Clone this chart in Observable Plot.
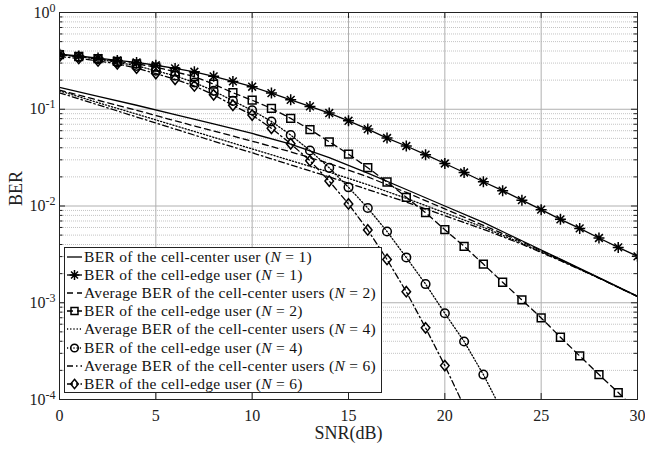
<!DOCTYPE html>
<html><head><meta charset="utf-8">
<script src="https://cdn.jsdelivr.net/npm/d3@7"></script>
<script src="https://cdn.jsdelivr.net/npm/@observablehq/plot@0.6"></script>
<style>
body{margin:0;background:#fff;}
#wrap{position:relative;width:645px;height:451px;font-family:"Liberation Serif",serif;}
#legend{position:absolute;left:64px;top:247px;width:318px;height:146px;border:1px solid #222;background:#fff;box-sizing:border-box;padding-top:0px;}
.row{height:18.1px;display:flex;align-items:center;font-size:15.5px;letter-spacing:0.3px;color:#111;white-space:nowrap;}
.row svg{flex:none;margin-right:1px;}
</style></head><body><div id="wrap"></div>
<script>
// ---- data ----
const snrEdge = [0,1,2,3,4,5,6,7,8,9,10,11,12,13,14,15,16,17,18,19,20,21,22,23,24,25,26,27,28,29,30];
const berEdgeN1 = [0.372,0.355,0.338,0.320,0.305,0.285,0.264,0.244,0.219,0.194,0.171,0.147,0.125,0.107,0.0914,0.0760,0.0624,0.0504,0.0417,0.0339,0.0275,0.0222,0.0178,0.0144,0.0115,0.00916,0.00728,0.00587,0.00467,0.00373,0.00302];
const berEdgeN2 = [0.367,0.351,0.333,0.313,0.295,0.272,0.244,0.217,0.182,0.148,0.124,0.102,0.0804,0.0617,0.0461,0.0344,0.0249,0.0177,0.0123,0.00853,0.00569,0.00383,0.00251,0.00163,0.00107,0.000697,0.000440,0.000282,0.000181,0.000118,0.0000759];
const berEdgeN4 = [0.367,0.348,0.330,0.305,0.281,0.250,0.222,0.189,0.155,0.122,0.0973,0.0748,0.0541,0.0375,0.0248,0.0156,0.00953,0.00545,0.00294,0.00156,0.000778,0.000398,0.000181,0.0000741];
const berEdgeN6 = [0.351,0.335,0.316,0.295,0.266,0.234,0.204,0.174,0.141,0.110,0.0871,0.0635,0.0440,0.0294,0.0181,0.0105,0.00565,0.00280,0.00130,0.000550,0.000224,0.0000851];
const snrCenter = [0,2,4,6,8,10,12,14,16,18,20,22,24,26,28,30];
const berCenterN1 = [0.168,0.136,0.110,0.0881,0.0708,0.0562,0.0437,0.0316,0.0219,0.0148,0.0100,0.00676,0.00437,0.00282,0.00182,0.00117];
const berCenterN2 = [0.158,0.124,0.0977,0.0759,0.0596,0.0468,0.0363,0.0275,0.0200,0.0138,0.00933,0.00631,0.00427,0.00279,0.00180,0.00116];
const berCenterN4 = [0.155,0.117,0.0891,0.0676,0.0513,0.0389,0.0295,0.0224,0.0166,0.0120,0.00851,0.00603,0.00412,0.00275,0.00180,0.00116];
const berCenterN6 = [0.148,0.111,0.0832,0.0624,0.0468,0.0355,0.0266,0.0200,0.0148,0.0110,0.00794,0.00575,0.00403,0.00272,0.00180,0.00116];
const xTicks = [0,5,10,15,20,25,30];
const yMajor = [1e-4,1e-3,1e-2,1e-1,1];
const yMinor = [2e-4,3e-4,4e-4,5e-4,6e-4,7e-4,8e-4,9e-4,2e-3,3e-3,4e-3,5e-3,6e-3,7e-3,8e-3,9e-3,2e-2,3e-2,4e-2,5e-2,6e-2,7e-2,8e-2,9e-2,0.2,0.3,0.4,0.5,0.6,0.7,0.8,0.9];
const legendLabels = [
  "BER of the cell-center user (<i>N</i> = 1)",
  "BER of the cell-edge user (<i>N</i> = 1)",
  "Average BER of the cell-center users (<i>N</i> = 2)",
  "BER of the cell-edge user (<i>N</i> = 2)",
  "Average BER of the cell-center users (<i>N</i> = 4)",
  "BER of the cell-edge user (<i>N</i> = 4)",
  "Average BER of the cell-center users (<i>N</i> = 6)",
  "BER of the cell-edge user (<i>N</i> = 6)"
];

// ---- symbols & styles ----
const symStar = {draw(c, s){const r=Math.sqrt(s/Math.PI);const d=r*0.7071;
  c.moveTo(-r,0);c.lineTo(r,0);c.moveTo(0,-r);c.lineTo(0,r);
  c.moveTo(-d,-d);c.lineTo(d,d);c.moveTo(-d,d);c.lineTo(d,-d);}};
const symSquare = {draw(c, s){const r=Math.sqrt(s/Math.PI)*0.85;
  c.moveTo(-r,-r);c.lineTo(r,-r);c.lineTo(r,r);c.lineTo(-r,r);c.closePath();}};
const symDiamond = {draw(c, s){const r=Math.sqrt(s/Math.PI);const w=r*0.82;
  c.moveTo(0,-r);c.lineTo(w,0);c.lineTo(0,r);c.lineTo(-w,0);c.closePath();}};
const DASH = {solid:null, dashed:"6,4", dotted:"1.2,2", dashdot:"6,3,1.5,3"};

const series = [
  {x: snrCenter, y: berCenterN1, dash: DASH.solid, sym: null},
  {x: snrEdge, y: berEdgeN1, dash: DASH.solid, sym: symStar, r: 5.5},
  {x: snrCenter, y: berCenterN2, dash: DASH.dashed, sym: null},
  {x: snrEdge, y: berEdgeN2, dash: DASH.dashed, sym: symSquare, r: 4.6},
  {x: snrCenter, y: berCenterN4, dash: DASH.dotted, sym: null},
  {x: snrEdge.slice(0, berEdgeN4.length), y: berEdgeN4, dash: DASH.dotted, sym: d3.symbolCircle, r: 4.3},
  {x: snrCenter, y: berCenterN6, dash: DASH.dashdot, sym: null},
  {x: snrEdge.slice(0, berEdgeN6.length), y: berEdgeN6, dash: DASH.dashdot, sym: symDiamond, r: 5.2}
];

const marks = [
  Plot.ruleY(yMinor, {stroke:"#c4c4c4", strokeDasharray:"1,1", strokeWidth:1}),
  Plot.ruleY(yMajor, {stroke:"#b0b0b0", strokeWidth:1}),
  Plot.ruleX(xTicks, {stroke:"#b0b0b0", strokeWidth:1})
];
for (const s of series) {
  const data = s.x.map((v, i) => ({snr: v, ber: s.y[i]}));
  marks.push(Plot.line(data, {x:"snr", y:"ber", stroke:"#000", strokeWidth:1.3, strokeDasharray:s.dash, clip:true}));
  if (s.sym) marks.push(Plot.dot(data, {x:"snr", y:"ber", symbol:s.sym, r:s.r, fill:"none", stroke:"#000", strokeWidth:1.5, clip:true}));
}
// inward ticks
const FW = 645-59-8, FH = 451-12-52;
marks.push(
  Plot.tickX(xTicks, {x:d=>d, insetTop:FH-6, stroke:"#222"}),
  Plot.tickX(xTicks, {x:d=>d, insetBottom:FH-6, stroke:"#222"}),
  Plot.tickY(yMajor, {y:d=>d, insetRight:FW-6, stroke:"#222"}),
  Plot.tickY(yMajor, {y:d=>d, insetLeft:FW-6, stroke:"#222"}),
  Plot.tickY(yMinor, {y:d=>d, insetRight:FW-3.5, stroke:"#222"}),
  Plot.tickY(yMinor, {y:d=>d, insetLeft:FW-3.5, stroke:"#222"}),
  Plot.frame({stroke:"#222", strokeWidth:1}),
  Plot.axisX(xTicks, {tickSize:0, tickPadding:10, label:null, fontSize:16}),
  Plot.axisY(yMajor, {tickSize:0, tickPadding:4, label:null, fontSize:16, tickFormat:d => "10^" + Math.round(Math.log10(d))}),
  Plot.text(["BER"], {frameAnchor:"left", dx:-43, rotate:-90, fontSize:18}),
  Plot.text(["SNR(dB)"], {frameAnchor:"bottom", dy:39.5, fontSize:18})
);

const chart = Plot.plot({
  width:645, height:451,
  marginLeft:59, marginRight:8, marginTop:12, marginBottom:52,
  x:{domain:[0,30]},
  y:{type:"log", domain:[1e-4,1]},
  style:{fontFamily:"'Liberation Serif', serif", fontSize:"16px", color:"#222", background:"white"},
  marks
});
d3.select(chart).selectAll("text").each(function(){
  const m = /^10\^(-?\d+)$/.exec(this.textContent);
  if (m) {
    this.textContent = "";
    d3.select(this).append("tspan").text("10");
    d3.select(this).append("tspan").attr("dy","-0.5em").attr("font-size","12px").text(m[1]);
  }
});
const wrap = document.getElementById("wrap");
wrap.appendChild(chart);

// legend
const leg = document.createElement("div");
leg.id = "legend";
series.forEach((s, i) => {
  const row = document.createElement("div");
  row.className = "row";
  const svg = d3.create("svg").attr("width",18).attr("height",14);
  svg.append("line").attr("x1",2).attr("x2",17).attr("y1",7).attr("y2",7).attr("stroke","#000").attr("stroke-width",1.3).attr("stroke-dasharray", s.dash);
  if (s.sym) svg.append("path").attr("transform","translate(9.5,7)").attr("d", d3.symbol(s.sym, Math.PI*s.r*s.r*0.8)()).attr("fill","none").attr("stroke","#000").attr("stroke-width",1.5);
  row.appendChild(svg.node());
  const span = document.createElement("span");
  span.innerHTML = legendLabels[i];
  row.appendChild(span);
  leg.appendChild(row);
});
wrap.appendChild(leg);
</script></body></html>
